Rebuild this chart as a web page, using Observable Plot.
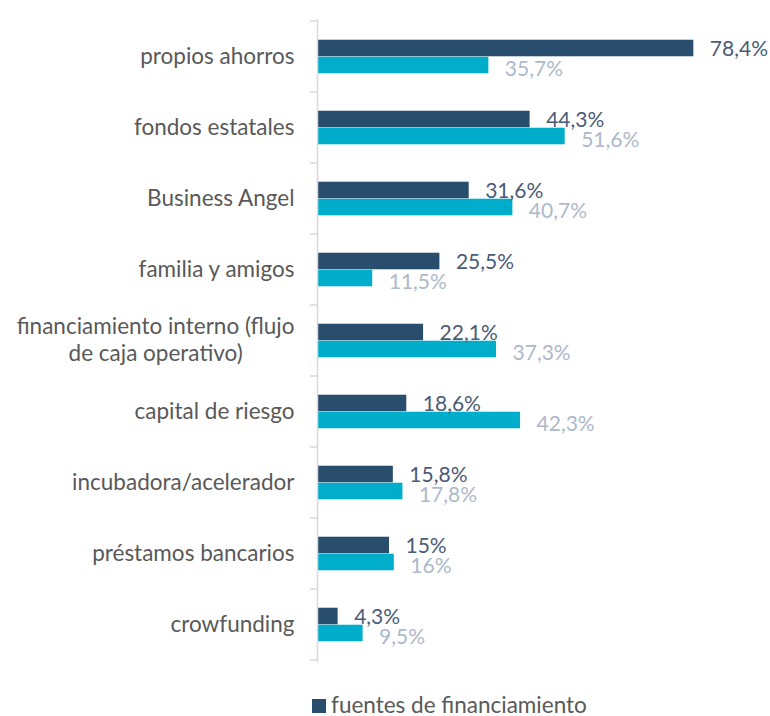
<!DOCTYPE html>
<html><head><meta charset="utf-8">
<script src="https://cdn.jsdelivr.net/npm/d3@7"></script>
<script src="https://cdn.jsdelivr.net/npm/@observablehq/plot@0.6"></script>
<style>
body{margin:0;background:#fff;font-family:Lato,sans-serif}
#legend{display:flex;align-items:baseline;padding-left:312px;margin-top:15px;height:20px;line-height:20px;font-size:22.5px;color:#595959;font-family:Lato,sans-serif}
#legend .sw{display:inline-block;width:14px;height:14px;background:#294D6D;margin-right:5px}
</style>
</head><body>
<div id="chart"></div>
<div id="legend"><span class="sw"></span><span>fuentes de financiamiento</span></div>
<script>
const categories = ["propios ahorros","fondos estatales","Business Angel","familia y amigos","financiamiento interno (flujo\nde caja operativo)","capital de riesgo","incubadora/acelerador","préstamos bancarios","crowfunding"];
const seriesA = [78.4,44.3,31.6,25.5,22.1,18.6,15.8,15,4.3];
const seriesB = [35.7,51.6,40.7,11.5,37.3,42.3,17.8,16,9.5];
const seriesNames = ["fuentes de financiamiento", "serie 2"];

const colA = "#294D6D", colB = "#00AECB";
const labA = "#4A5B78", labB = "#ADB9CA";

const W = 770, H = 680, mT = 19, mB = 18, mL = 317, mR = 21;
const step = (H - mT - mB) / categories.length;
const barH = 17;

const dataA = categories.map((c, i) => ({cat: c, v: seriesA[i], s: seriesNames[0]}));
const dataB = categories.map((c, i) => ({cat: c, v: seriesB[i], s: seriesNames[1]}));
const fmt = d => String(d).replace(".", ",") + "%";

const ticksMark = (index, scales, values, dims) => {
  const g = d3.create("svg:g");
  const y = scales.y;
  const bw = y.bandwidth ? y.bandwidth() : step;
  const pos = categories.map(c => y(c)).concat([y(categories[categories.length - 1]) + bw]);
  const x0 = scales.x(0);
  for (const p of pos) {
    g.append("line").attr("x1", x0 - 7).attr("x2", x0).attr("y1", p).attr("y2", p)
      .attr("stroke", "#D9D9D9").attr("stroke-width", 1.5);
  }
  return g.node();
};

const plot = Plot.plot({
  width: W, height: H,
  marginTop: mT, marginBottom: mB, marginLeft: mL, marginRight: mR,
  style: {fontFamily: "Lato, sans-serif", background: "white", overflow: "visible"},
  x: {domain: [0, 90], axis: null},
  y: {domain: categories, padding: 0, axis: null},
  marks: [
    Plot.barX(dataA, {x: "v", y: "cat", fill: colA, insetTop: step / 2 - barH, insetBottom: step / 2}),
    Plot.barX(dataB, {x: "v", y: "cat", fill: colB, insetTop: step / 2, insetBottom: step / 2 - barH}),
    Plot.ruleX([0], {stroke: "#D9D9D9", strokeWidth: 1.5}),
    ticksMark,
    Plot.text(dataA, {x: "v", y: "cat", text: d => fmt(d.v), dx: 16, dy: -8, textAnchor: "start", fill: labA, fontSize: 21}),
    Plot.text(dataB, {x: "v", y: "cat", text: d => fmt(d.v), dx: 16, dy: 12, textAnchor: "start", fill: labB, fontSize: 21}),
    Plot.text(categories, {y: d => d, text: d => d, frameAnchor: "left", dx: -23, dy: -2, textAnchor: "end", fill: "#595959", fontSize: 22.5, lineHeight: 1.2, className: "catlab"})
  ]
});
document.getElementById("chart").appendChild(plot);

// center multi-line category labels (as in the original)
plot.querySelectorAll("g.catlab text").forEach(t => {
  const tspans = t.querySelectorAll("tspan");
  if (tspans.length > 1) {
    const bb = t.getBBox();
    const cx = bb.x + bb.width / 2;
    t.setAttribute("text-anchor", "middle");
    tspans.forEach(ts => ts.setAttribute("x", cx));
  }
});
</script>
</body></html>
